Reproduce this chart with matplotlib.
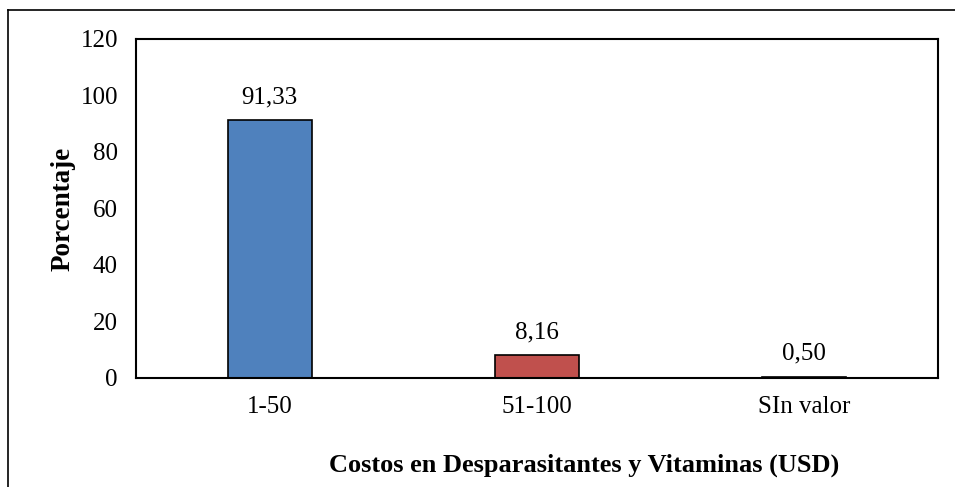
import matplotlib
matplotlib.use("Agg")
import matplotlib.pyplot as plt
from matplotlib.lines import Line2D

categories = ["1-50", "51-100", "SIn valor"]
values = [91.33, 8.16, 0.50]
labels = ["91,33", "8,16", "0,50"]
colors = ["#4F81BD", "#C0504D", "#9BBB59"]

plt.rcParams['font.family'] = ['Liberation Serif', 'DejaVu Serif']

W, H = 955, 487
fig = plt.figure(figsize=(W / 100, H / 100), dpi=100)
ax = fig.add_axes([136 / W, 1 - 378 / H, (938 - 136) / W, (378 - 39) / H])

x = range(len(categories))
ax.bar(x, values, width=0.315, color=colors, edgecolor="black", linewidth=1.2)
for xi, v, lab in zip(x, values, labels):
    ax.annotate(lab, (xi, v), xytext=(0, 12), textcoords="offset points",
                ha="center", va="baseline", fontsize=18)

ax.set_xlim(-0.5, 2.5)
ax.set_ylim(0, 120)
ax.set_yticks(range(0, 121, 20))
ax.set_xticks(list(x))
ax.set_xticklabels(categories)
ax.tick_params(axis="both", length=0, labelsize=18)
ax.tick_params(axis="y", pad=13)
ax.tick_params(axis="x", pad=13)
for s in ax.spines.values():
    s.set_linewidth(1.5)
    s.set_color("black")

ax.set_ylabel("Porcentaje", fontsize=19.5, fontweight="bold", labelpad=3.5)
fig.text(584 / W, 1 - 465 / H, "Costos en Desparasitantes y Vitaminas (USD)",
         ha="center", va="center", fontsize=19, fontweight="bold")

# outer chart border (top and left edges visible)
fig.add_artist(Line2D([8 / W, 1], [1 - 10 / H, 1 - 10 / H], transform=fig.transFigure,
                      color="black", linewidth=1.2))
fig.add_artist(Line2D([8 / W, 8 / W], [1 - 10 / H, 0], transform=fig.transFigure,
                      color="black", linewidth=1.2))

fig.savefig("out.png", dpi=100)
